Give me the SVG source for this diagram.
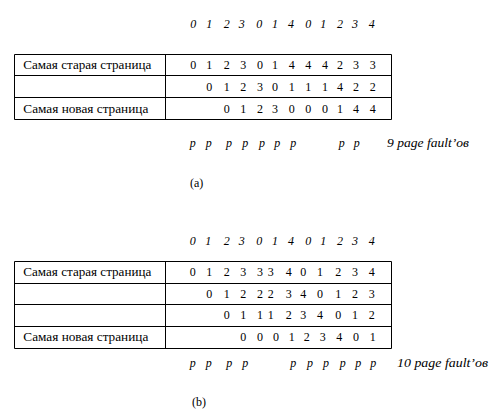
<svg xmlns="http://www.w3.org/2000/svg" width="504" height="416" viewBox="0 0 504 416">
<style>
text{font-family:"Liberation Serif","Times New Roman",serif;font-size:12px;fill:#000}
.d{text-anchor:middle}
.i{font-style:italic}
.grid{fill:none;stroke:#000;stroke-width:1}
</style>
<rect width="504" height="416" fill="#fff"/>
<g id="partA">
<g id="seqA">
<text class="d i" x="193.3" y="27.5">0</text><text class="d i" x="209.3" y="27.5">1</text><text class="d i" x="226.7" y="27.5">2</text><text class="d i" x="241.7" y="27.5">3</text><text class="d i" x="259.3" y="27.5">0</text><text class="d i" x="275" y="27.5">1</text><text class="d i" x="291" y="27.5">4</text><text class="d i" x="308.3" y="27.5">0</text><text class="d i" x="323.3" y="27.5">1</text><text class="d i" x="340" y="27.5">2</text><text class="d i" x="355" y="27.5">3</text><text class="d i" x="371.7" y="27.5">4</text>
</g>
<g id="tableA">
<path class="grid" d="M14.5 54.5H391.5V119.5H14.5Z M14.5 75.5H391.5 M14.5 97.5H391.5 M165.5 54.5V119.5"/>
<text x="23.3" y="69" textLength="128" lengthAdjust="spacingAndGlyphs">Самая старая страница</text>
<text x="23.3" y="112.5" textLength="125" lengthAdjust="spacingAndGlyphs">Самая новая страница</text>
<text class="d" x="193.3" y="69">0</text><text class="d" x="209.3" y="69">1</text><text class="d" x="226.7" y="69">2</text><text class="d" x="243.3" y="69">3</text><text class="d" x="260" y="69">0</text><text class="d" x="275" y="69">1</text><text class="d" x="291.7" y="69">4</text><text class="d" x="308.3" y="69">4</text><text class="d" x="325" y="69">4</text><text class="d" x="340" y="69">2</text><text class="d" x="356" y="69">3</text><text class="d" x="372.7" y="69">3</text>
<text class="d" x="209.3" y="90.7">0</text><text class="d" x="226.7" y="90.7">1</text><text class="d" x="243.3" y="90.7">2</text><text class="d" x="260" y="90.7">3</text><text class="d" x="275" y="90.7">0</text><text class="d" x="291.7" y="90.7">1</text><text class="d" x="308.3" y="90.7">1</text><text class="d" x="325" y="90.7">1</text><text class="d" x="340" y="90.7">4</text><text class="d" x="356" y="90.7">2</text><text class="d" x="372.7" y="90.7">2</text>
<text class="d" x="226.7" y="112.5">0</text><text class="d" x="243.3" y="112.5">1</text><text class="d" x="260" y="112.5">2</text><text class="d" x="275" y="112.5">3</text><text class="d" x="291.7" y="112.5">0</text><text class="d" x="308.3" y="112.5">0</text><text class="d" x="325" y="112.5">0</text><text class="d" x="340" y="112.5">1</text><text class="d" x="356" y="112.5">4</text><text class="d" x="372.7" y="112.5">4</text>
</g>
<g id="faultsA">
<text class="d i" x="192.7" y="147">p</text><text class="d i" x="208.7" y="147">p</text><text class="d i" x="229" y="147">p</text><text class="d i" x="245.3" y="147">p</text><text class="d i" x="262" y="147">p</text><text class="d i" x="277.3" y="147">p</text><text class="d i" x="293.3" y="147">p</text><text class="d i" x="341.7" y="147">p</text><text class="d i" x="356.7" y="147">p</text>
<text class="i" x="387" y="147" textLength="82" lengthAdjust="spacingAndGlyphs">9  page fault’ов</text>
</g>
<text id="captionA" x="190" y="186.5">(a)</text>
</g>
<g id="partB">
<g id="seqB">
<text class="d i" x="192.7" y="245">0</text><text class="d i" x="208.3" y="245">1</text><text class="d i" x="226.7" y="245">2</text><text class="d i" x="241.7" y="245">3</text><text class="d i" x="259.3" y="245">0</text><text class="d i" x="275" y="245">1</text><text class="d i" x="291" y="245">4</text><text class="d i" x="308.3" y="245">0</text><text class="d i" x="323.3" y="245">1</text><text class="d i" x="340" y="245">2</text><text class="d i" x="355" y="245">3</text><text class="d i" x="371.7" y="245">4</text>
</g>
<g id="tableB">
<path class="grid" d="M14.5 261.5H391.5V348.5H14.5Z M14.5 283.5H391.5 M14.5 304.5H391.5 M14.5 326.5H391.5 M165.5 261.5V348.5"/>
<text x="23.3" y="276" textLength="128" lengthAdjust="spacingAndGlyphs">Самая старая страница</text>
<text x="23.3" y="341.2" textLength="125" lengthAdjust="spacingAndGlyphs">Самая новая страница</text>
<text class="d" x="192.7" y="276">0</text><text class="d" x="209.3" y="276">1</text><text class="d" x="226.7" y="276">2</text><text class="d" x="243.3" y="276">3</text><text class="d" x="260" y="276">3</text><text class="d" x="270.7" y="276">3</text><text class="d" x="288.7" y="276">4</text><text class="d" x="303.3" y="276">0</text><text class="d" x="320" y="276">1</text><text class="d" x="338.3" y="276">2</text><text class="d" x="355" y="276">3</text><text class="d" x="371.7" y="276">4</text>
<text class="d" x="209.3" y="297.7">0</text><text class="d" x="226.7" y="297.7">1</text><text class="d" x="243.3" y="297.7">2</text><text class="d" x="260" y="297.7">2</text><text class="d" x="270.7" y="297.7">2</text><text class="d" x="288.7" y="297.7">3</text><text class="d" x="303.3" y="297.7">4</text><text class="d" x="320" y="297.7">0</text><text class="d" x="338.3" y="297.7">1</text><text class="d" x="355" y="297.7">2</text><text class="d" x="371.7" y="297.7">3</text>
<text class="d" x="226.7" y="319.2">0</text><text class="d" x="243.3" y="319.2">1</text><text class="d" x="260" y="319.2">1</text><text class="d" x="270.7" y="319.2">1</text><text class="d" x="288.7" y="319.2">2</text><text class="d" x="303.3" y="319.2">3</text><text class="d" x="320" y="319.2">4</text><text class="d" x="338.3" y="319.2">0</text><text class="d" x="355" y="319.2">1</text><text class="d" x="371.7" y="319.2">2</text>
<text class="d" x="243.3" y="341.2">0</text><text class="d" x="260" y="341.2">0</text><text class="d" x="276" y="341.2">0</text><text class="d" x="291.7" y="341.2">1</text><text class="d" x="306.7" y="341.2">2</text><text class="d" x="322.7" y="341.2">3</text><text class="d" x="339.3" y="341.2">4</text><text class="d" x="356" y="341.2">0</text><text class="d" x="372.7" y="341.2">1</text>
</g>
<g id="faultsB">
<text class="d i" x="192.7" y="367">p</text><text class="d i" x="208.7" y="367">p</text><text class="d i" x="229.3" y="367">p</text><text class="d i" x="245.3" y="367">p</text><text class="d i" x="293.3" y="367">p</text><text class="d i" x="310" y="367">p</text><text class="d i" x="326" y="367">p</text><text class="d i" x="342.7" y="367">p</text><text class="d i" x="358.3" y="367">p</text><text class="d i" x="373.3" y="367">p</text>
<text class="i" x="397" y="367" textLength="91" lengthAdjust="spacingAndGlyphs">10 page fault’ов</text>
</g>
<text id="captionB" x="192" y="406">(b)</text>
</g>
<g id="connectors"/>
</svg>
